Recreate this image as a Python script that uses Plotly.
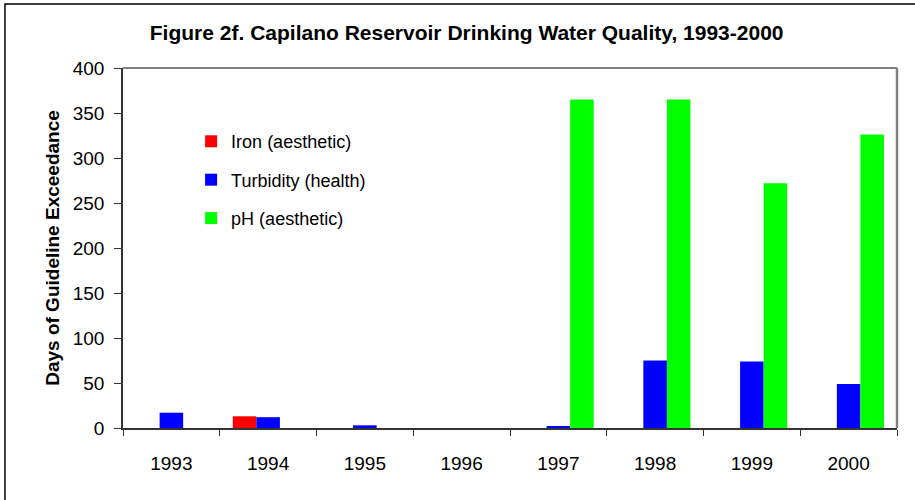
"""CAPILANO RESERVOIR DRINKING WATER QUALITY BAR CHART"""
import plotly.graph_objects as go

years = ["1993", "1994", "1995", "1996", "1997", "1998", "1999", "2000"]
iron = [0, 13, 0, 0, 0, 0, 0, 0]
turbidity = [17, 12, 3, 0, 2, 75, 74, 49]
ph = [0, 0, 0, 0, 365, 365, 272, 326]

FONT = "Liberation Sans, Arial, sans-serif"


def make_bar(values, name, color):
    return go.Bar(
        x=years,
        y=values,
        name=name,
        legendgroup=name,
        marker_color=color,
        marker_line_width=0,
    )


data = [
    make_bar(iron, "Iron (aesthetic)", "#ff0000"),
    make_bar(turbidity, "Turbidity (health)", "#0000ff"),
    make_bar(ph, "pH (aesthetic)", "#00ff00"),
]

layout = go.Layout(
    width=915,
    height=500,
    barmode="group",
    bargap=0.27,
    bargroupgap=0,
    plot_bgcolor="white",
    paper_bgcolor="white",
    font=dict(family=FONT, size=19, color="black"),
    margin=dict(t=68, l=123, r=18, b=72),
    title=dict(
        text="<b>Figure 2f. Capilano Reservoir Drinking Water Quality, 1993-2000</b>",
        font=dict(size=21),
        x=0.51,
        xanchor="center",
        y=0.934,
        yanchor="middle",
    ),
    xaxis=dict(
        type="category",
        showline=True,
        linecolor="#333333",
        linewidth=1.5,
        ticks="outside",
        tickson="boundaries",
        ticklen=6,
        tickcolor="#333333",
        showgrid=False,
        ticklabelstandoff=17,
    ),
    yaxis=dict(
        range=[0, 400],
        dtick=50,
        showline=True,
        linecolor="#333333",
        linewidth=1.5,
        ticks="outside",
        ticklen=7,
        tickcolor="#333333",
        showgrid=False,
        zeroline=False,
        ticklabelstandoff=6,
    ),
    showlegend=True,
    legend=dict(
        x=0.088,
        y=0.847,
        xanchor="left",
        yanchor="top",
        bgcolor="rgba(0,0,0,0)",
        tracegroupgap=12,
        itemwidth=30,
        font=dict(size=18),
    ),
    annotations=[
        dict(
            text="<b>Days of Guideline Exceedance</b>",
            xref="paper",
            yref="paper",
            x=-0.092,
            y=0.5,
            xanchor="center",
            yanchor="middle",
            textangle=-90,
            showarrow=False,
            font=dict(size=19),
        )
    ],
    shapes=[
        # grey frame on top and right of the plot area
        dict(type="line", xref="paper", yref="paper", x0=0, x1=1, y0=1, y1=1,
             line=dict(color="#808080", width=2)),
        dict(type="line", xref="paper", yref="paper", x0=1, x1=1, y0=0, y1=1,
             line=dict(color="#808080", width=2.5)),
        # outer chart border
        dict(type="rect", xref="paper", yref="paper", x0=-0.1525, x1=1.5,
             y0=-1, y1=1.178, line=dict(color="black", width=1.5)),
    ],
)

fig = go.Figure(data, layout)
fig.write_html(
    "out.html",
    config={"displayModeBar": False},
    post_script="document.body.style.margin = '0';",
)
